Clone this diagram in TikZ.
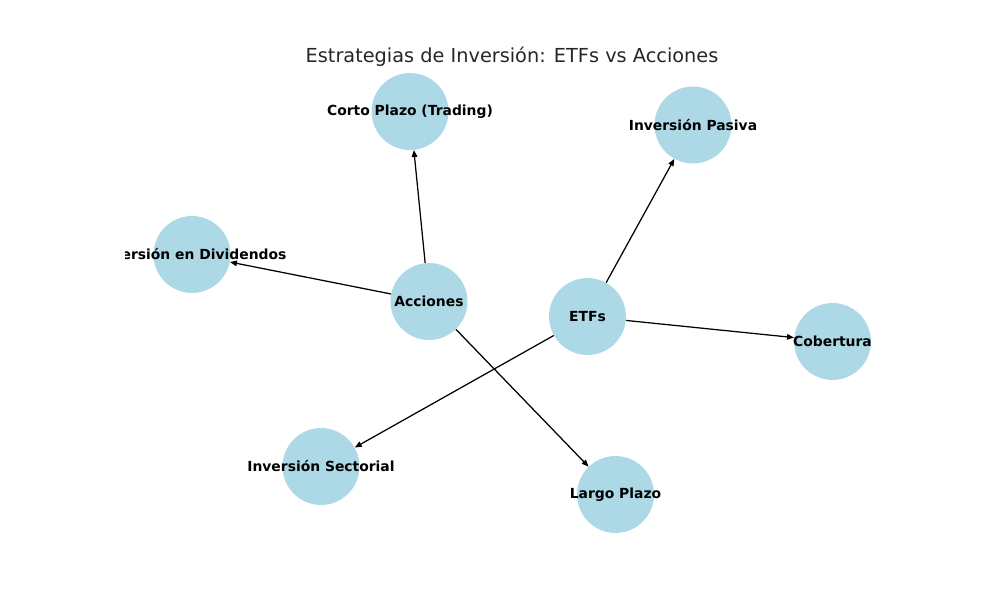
\documentclass[tikz,border=0pt]{standalone}
\usepackage{fontspec}
\setmainfont{DejaVu Sans}
\usetikzlibrary{arrows.meta}
\definecolor{nodeblue}{HTML}{ADD8E6}
\begin{document}
\begin{tikzpicture}[x=0.72pt,y=-0.72pt,
  bubble/.style={circle,fill=nodeblue,draw=none,minimum size=55.4pt,inner sep=0pt},
  lbl/.style={font=\bfseries\fontsize{10pt}{12pt}\selectfont,text=black,inner sep=0pt},
  edge/.style={-{Triangle[length=5pt,width=4pt]},line width=0.9pt,black}]
\useasboundingbox (0,0) rectangle (1000,600);
\node[font=\fontsize{13.9pt}{16pt}\selectfont,text=black!85] (title) at (512,57) {Estrategias de Inversión: ETFs vs Acciones};
% nodes
\node[bubble] (corto) at (410,111.5) {};
\node[bubble] (pasiva) at (693,125) {};
\node[bubble] (divid) at (192,254.5) {};
\node[bubble] (acc) at (429,301.5) {};
\node[bubble] (etf) at (587.5,316.5) {};
\node[bubble] (cob) at (832.5,341.5) {};
\node[bubble] (sect) at (321,466.5) {};
\node[bubble] (largo) at (615.5,494.5) {};
% edges
\draw[edge] (acc) -- (corto);
\draw[edge] (acc) -- (divid);
\draw[edge] (acc) -- (largo);
\draw[edge] (etf) -- (pasiva);
\draw[edge] (etf) -- (cob);
\draw[edge] (etf) -- (sect);
% labels (clipped to the plot area)
\begin{scope}
\clip (125,72) rectangle (900,534);
\node[lbl] (tcorto) at (corto) {Corto Plazo (Trading)};
\node[lbl] (tpasiva) at (pasiva) {Inversión Pasiva};
\node[lbl] (tdivid) at (divid) {Inversión en Dividendos};
\node[lbl] (tacc) at (acc) {Acciones};
\node[lbl] (tetf) at (etf) {ETFs};
\node[lbl] (tcob) at (cob) {Cobertura};
\node[lbl] (tsect) at (sect) {Inversión Sectorial};
\node[lbl] (tlargo) at (largo) {Largo Plazo};
\end{scope}
\end{tikzpicture}
\end{document}
